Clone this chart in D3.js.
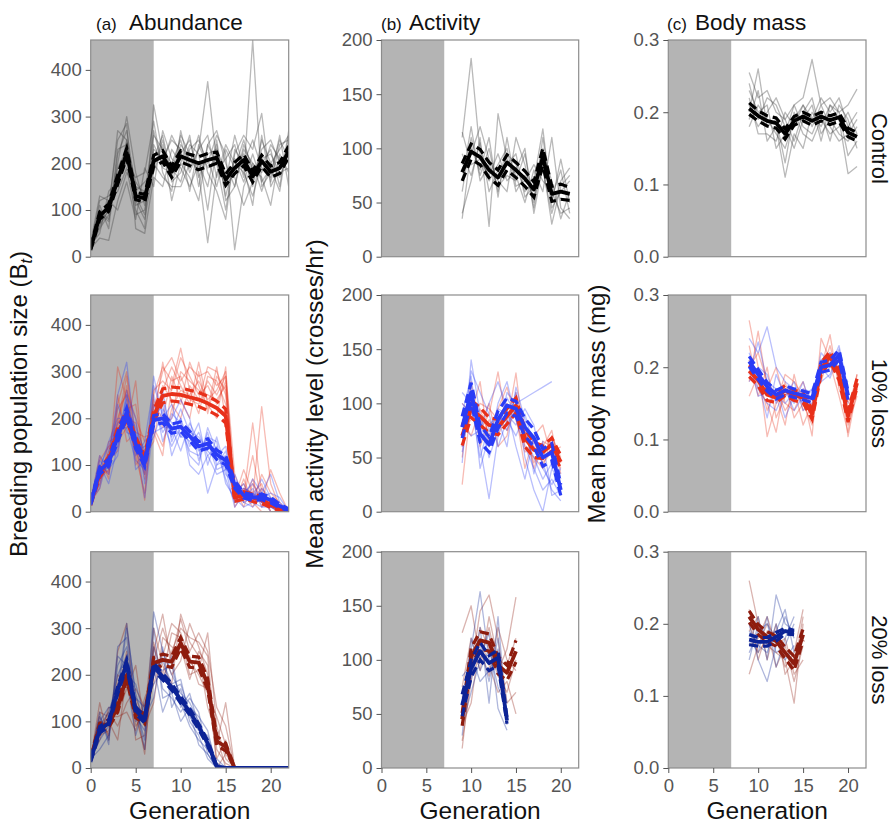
<!DOCTYPE html>
<html><head><meta charset="utf-8">
<script src="https://cdn.jsdelivr.net/npm/d3@7"></script>
<style>
body{margin:0;background:#fff}
text{font-family:"Liberation Sans", Arial, Helvetica, sans-serif}
</style>
</head><body>
<svg id="chart" width="893" height="824"></svg>
<script>
// ---------------- DATA ----------------
const columnTitles = ["Abundance", "Activity", "Body mass"];
const columnLetters = ["(a)", "(b)", "(c)"];
const rowLabels = ["Control", "10% loss", "20% loss"];
const xTicks = [0, 5, 10, 15, 20];
const yTicksAbund = [0, 100, 200, 300, 400];
const yTicksAct = [0, 50, 100, 150, 200];
const yTicksMass = [0, 0.1, 0.2, 0.3];

const genAll = [0,1,2,3,4,5,6,7,8,9,10,11,12,13,14,15,16,17,18,19,20,21,22];
const gen9to21 = [9,10,11,12,13,14,15,16,17,18,19,20,21];
const gen9to20 = [9,10,11,12,13,14,15,16,17,18,19,20];
const gen9to15 = [9,10,11,12,13,14,15];
const gen9to14 = [9,10,11,12,13,14];

// Row 1 : Control
const ctrlAbundMean = [18, 88, 105, 165, 222, 130, 125, 205, 215, 182, 215, 207, 200, 207, 212, 165, 190, 207, 172, 205, 182, 190, 225];
const ctrlAbundSE   = [4, 8, 8, 10, 10, 8, 8, 12, 12, 12, 12, 12, 14, 14, 12, 12, 12, 12, 12, 12, 12, 12, 12];
const ctrlAbundReps = [
 [20, 60, 90, 200, 300, 180, 110, 260, 230, 200, 250, 180, 230, 375, 200, 150, 180, 220, 150, 250, 200, 230, 260],
 [25, 120, 130, 150, 250, 100, 60, 325, 220, 190, 160, 230, 250, 200, 260, 220, 15, 150, 200, 180, 240, 210, 200],
 [18, 40, 35, 120, 180, 150, 140, 210, 260, 170, 240, 210, 180, 30, 180, 210, 240, 170, 464, 150, 180, 250, 210],
 [22, 90, 110, 250, 285, 60, 50, 170, 150, 230, 200, 260, 150, 240, 200, 100, 220, 260, 230, 307, 150, 190, 240],
 [20, 100, 80, 180, 200, 170, 180, 290, 180, 140, 270, 190, 230, 260, 170, 240, 200, 180, 130, 200, 230, 150, 270],
 [30, 130, 120, 100, 160, 80, 190, 150, 270, 210, 190, 150, 200, 150, 250, 120, 150, 240, 190, 170, 110, 220, 180],
 [20, 70, 100, 270, 250, 130, 90, 240, 200, 260, 220, 250, 170, 220, 230, 180, 170, 110, 160, 230, 250, 200, 230],
 [25, 50, 140, 160, 220, 110, 120, 200, 170, 150, 150, 200, 260, 180, 140, 80, 230, 200, 250, 190, 170, 260, 150],
 [20, 110, 60, 220, 270, 140, 160, 180, 240, 120, 200, 170, 120, 240, 270, 200, 150, 230, 200, 140, 200, 170, 220],
 [28, 80, 120, 140, 190, 90, 100, 230, 210, 250, 230, 140, 240, 190, 210, 160, 260, 190, 110, 260, 160, 240, 250],
 [18, 95, 75, 230, 240, 160, 130, 270, 190, 180, 260, 220, 190, 210, 150, 230, 190, 250, 180, 210, 220, 180, 190],
 [24, 65, 100, 190, 230, 120, 80, 190, 250, 160, 180, 240, 220, 100, 240, 130, 210, 160, 220, 160, 190, 140, 260]
];
const ctrlActMean = [78, 97, 92, 80, 73, 87, 80, 72, 62, 92, 58, 60, 58];
const ctrlActSE   = [8, 7, 7, 7, 7, 7, 7, 7, 7, 8, 7, 7, 6];
const ctrlActReps = [
 [110, 183, 95, 70, 85, 100, 60, 75, 55, 80, 40, 70, 82],
 [40, 70, 110, 28, 132, 90, 75, 50, 80, 60, 110, 45, 35],
 [85, 95, 120, 90, 70, 60, 110, 85, 45, 95, 70, 35, 60],
 [60, 110, 75, 100, 60, 95, 85, 60, 70, 118, 50, 90, 50],
 [115, 85, 90, 75, 95, 70, 80, 100, 40, 85, 30, 65, 75],
 [35, 100, 80, 110, 55, 110, 65, 70, 85, 70, 60, 40, 45],
 [95, 75, 105, 60, 80, 85, 95, 55, 65, 100, 45, 60, 70],
 [70, 120, 70, 85, 65, 75, 70, 95, 50, 110, 55, 80, 40]
];
const ctrlMassMean = [0.205, 0.195, 0.188, 0.185, 0.170, 0.188, 0.194, 0.188, 0.194, 0.189, 0.193, 0.172, 0.166];
const ctrlMassSE   = [0.008, 0.007, 0.007, 0.007, 0.007, 0.006, 0.006, 0.006, 0.006, 0.006, 0.006, 0.006, 0.006];
const ctrlMassReps = [
 [0.255, 0.22, 0.23, 0.20, 0.19, 0.21, 0.22, 0.273, 0.21, 0.22, 0.2, 0.21, 0.232],
 [0.19, 0.23, 0.16, 0.18, 0.11, 0.17, 0.15, 0.2, 0.18, 0.21, 0.19, 0.115, 0.125],
 [0.23, 0.20, 0.21, 0.15, 0.17, 0.21, 0.18, 0.17, 0.2, 0.16, 0.21, 0.19, 0.15],
 [0.21, 0.18, 0.2, 0.22, 0.19, 0.16, 0.2, 0.22, 0.17, 0.19, 0.17, 0.16, 0.18],
 [0.18, 0.21, 0.19, 0.17, 0.15, 0.19, 0.21, 0.19, 0.22, 0.2, 0.22, 0.18, 0.2],
 [0.2, 0.26, 0.18, 0.19, 0.13, 0.2, 0.17, 0.16, 0.19, 0.17, 0.18, 0.2, 0.17],
 [0.24, 0.19, 0.22, 0.21, 0.18, 0.15, 0.19, 0.21, 0.16, 0.21, 0.2, 0.14, 0.16],
 [0.22, 0.17, 0.17, 0.16, 0.2, 0.18, 0.21, 0.18, 0.21, 0.18, 0.16, 0.17, 0.19]
];

// Row 2 : 10% loss (red and blue)
const loss10RedAbundMean  = [18, 82, 110, 170, 205, 150, 112, 205, 248, 252, 250, 245, 240, 232, 222, 205, 30, 35, 30, 25, 15, 6, 2];
const loss10RedAbundSE    = [4, 8, 8, 10, 10, 10, 8, 12, 15, 15, 15, 15, 15, 15, 15, 15, 8, 8, 8, 8, 6, 4, 2];
const loss10BlueAbundMean = [18, 88, 105, 160, 212, 145, 105, 196, 200, 178, 182, 162, 140, 146, 122, 110, 58, 35, 30, 32, 25, 12, 4];
const loss10BlueAbundSE   = [4, 8, 8, 10, 10, 10, 8, 10, 10, 10, 10, 10, 10, 10, 10, 10, 8, 6, 6, 6, 6, 4, 2];
const loss10RedAbundReps = [
 [20, 60, 130, 230, 300, 160, 90, 220, 300, 330, 280, 310, 290, 300, 270, 290, 40, 60, 20, 0, 0, 0, 0],
 [25, 100, 80, 200, 260, 200, 150, 180, 140, 220, 260, 250, 280, 240, 260, 300, 80, 30, 190, 40, 10, 0, 0],
 [18, 110, 140, 150, 180, 280, 70, 260, 280, 260, 330, 290, 250, 270, 230, 280, 20, 50, 30, 225, 60, 10, 0],
 [22, 70, 90, 310, 240, 120, 40, 230, 200, 290, 240, 200, 300, 210, 290, 260, 30, 90, 40, 20, 90, 40, 0],
 [20, 90, 120, 180, 270, 100, 130, 190, 320, 230, 200, 270, 240, 310, 300, 250, 60, 20, 70, 10, 30, 0, 0],
 [28, 75, 110, 130, 220, 230, 100, 210, 260, 310, 270, 230, 320, 230, 200, 310, 10, 40, 10, 50, 20, 10, 0],
 [19, 120, 70, 250, 150, 170, 160, 170, 120, 270, 350, 260, 210, 290, 280, 230, 50, 10, 60, 30, 0, 0, 0],
 [24, 85, 100, 190, 290, 140, 25, 240, 180, 200, 300, 280, 260, 250, 240, 270, 20, 70, 20, 80, 40, 20, 0],
 [20, 50, 150, 160, 200, 190, 120, 150, 270, 240, 230, 320, 270, 220, 310, 200, 40, 30, 120, 20, 10, 0, 0],
 [26, 95, 85, 220, 250, 130, 80, 250, 310, 280, 290, 240, 230, 280, 250, 290, 30, 50, 40, 60, 0, 0, 0]
];
const loss10BlueAbundReps = [
 [20, 80, 110, 250, 320, 150, 80, 290, 200, 230, 160, 180, 130, 150, 90, 100, 30, 40, 60, 20, 10, 0, 0],
 [25, 100, 60, 140, 230, 170, 120, 180, 260, 150, 200, 140, 170, 120, 140, 80, 60, 20, 30, 70, 30, 10, 0],
 [18, 60, 130, 180, 180, 110, 90, 230, 170, 200, 240, 200, 110, 170, 100, 130, 40, 60, 20, 40, 80, 20, 0],
 [22, 120, 90, 120, 250, 200, 60, 200, 230, 120, 170, 150, 190, 100, 160, 90, 80, 30, 50, 10, 20, 0, 0],
 [20, 90, 150, 200, 200, 130, 140, 170, 180, 180, 130, 190, 150, 140, 120, 140, 50, 20, 10, 30, 40, 30, 0],
 [28, 70, 100, 160, 240, 90, 110, 250, 150, 210, 190, 120, 100, 180, 130, 70, 20, 50, 40, 20, 10, 0, 0],
 [19, 110, 80, 230, 170, 160, 30, 190, 240, 170, 220, 170, 160, 130, 110, 120, 70, 40, 30, 50, 30, 10, 0],
 [24, 50, 120, 140, 260, 140, 100, 210, 190, 140, 180, 130, 120, 160, 150, 60, 30, 10, 20, 30, 0, 0, 0],
 [20, 85, 95, 170, 220, 180, 130, 160, 220, 190, 160, 160, 140, 40, 100, 110, 40, 30, 70, 40, 20, 0, 0],
 [26, 95, 140, 190, 210, 120, 150, 270, 210, 160, 200, 100, 80, 120, 80, 90, 10, 40, 20, 10, 10, 10, 0]
];
const loss10RedActMean  = [70, 95, 88, 80, 78, 88, 98, 68, 57, 55, 62, 46];
const loss10RedActSE    = [9, 8, 8, 7, 7, 7, 7, 8, 7, 6, 6, 6];
const loss10BlueActMean = [78, 110, 72, 62, 85, 98, 95, 78, 68, 50, 55, 20];
const loss10BlueActSE   = [10, 9, 8, 7, 8, 7, 7, 8, 8, 8, 8, 5];
const loss10RedActReps = [
 [25, 100, 75, 90, 129, 80, 128, 60, 50, 40, 70, 45],
 [100, 90, 120, 60, 80, 100, 90, 40, 70, 80, 50, 55],
 [60, 110, 80, 100, 60, 70, 110, 75, 45, 60, 75, 35],
 [85, 70, 95, 70, 95, 115, 85, 55, 65, 45, 55, 60],
 [50, 120, 60, 85, 70, 90, 100, 80, 40, 65, 60, 40],
 [75, 85, 100, 95, 85, 75, 95, 65, 60, 50, 70, 50]
];
const loss10BlueActReps = [
 [45, 140, 90, 60, 100, 120, 85, 60, 40, 20, 30, 15],
 [90, 125, 60, 12, 70, 110, 100, 105, 110, 115, 120, null],
 [110, 100, 50, 80, 90, 75, 110, 50, 20, 0, 40, 25],
 [60, 130, 110, 90, 60, 85, 70, 90, 60, 45, 20, 10],
 [80, 70, 75, 100, 120, 95, 60, 30, 70, 55, 60, 30],
 [70, 115, 40, 70, 85, 60, 115, 85, 35, 65, 15, 20],
 [100, 90, 85, 50, 75, 105, 90, 70, 50, 30, 45, 35],
 [55, 105, 65, 75, 95, 90, 80, 95, 80, 40, 25, 40]
];
const loss10RedMassMean  = [0.195, 0.182, 0.162, 0.158, 0.168, 0.161, 0.158, 0.135, 0.198, 0.215, 0.19, 0.132, 0.178];
const loss10RedMassSE    = [0.008, 0.008, 0.008, 0.007, 0.007, 0.007, 0.007, 0.007, 0.008, 0.007, 0.008, 0.008, 0.006];
const loss10BlueMassMean = [0.208, 0.19, 0.173, 0.162, 0.168, 0.164, 0.161, 0.157, 0.2, 0.203, 0.217, 0.161];
const loss10BlueMassSE   = [0.007, 0.007, 0.006, 0.006, 0.006, 0.006, 0.006, 0.006, 0.007, 0.007, 0.007, 0.006];
const loss10RedMassReps = [
 [0.265, 0.2, 0.104, 0.15, 0.19, 0.18, 0.16, 0.105, 0.24, 0.21, 0.2, 0.104, 0.17],
 [0.18, 0.25, 0.17, 0.2, 0.15, 0.14, 0.17, 0.13, 0.2, 0.245, 0.17, 0.14, 0.19],
 [0.21, 0.16, 0.2, 0.13, 0.16, 0.17, 0.12, 0.15, 0.18, 0.22, 0.19, 0.12, 0.16],
 [0.16, 0.19, 0.14, 0.17, 0.14, 0.16, 0.18, 0.14, 0.21, 0.2, 0.21, 0.15, 0.18],
 [0.23, 0.17, 0.15, 0.11, 0.18, 0.13, 0.15, 0.12, 0.19, 0.23, 0.18, 0.13, 0.17],
 [0.2, 0.22, 0.18, 0.16, 0.12, 0.19, 0.14, 0.16, 0.2, 0.205, 0.16, 0.11, 0.19]
];
const loss10BlueMassReps = [
 [0.24, 0.22, 0.256, 0.2, 0.18, 0.17, 0.15, 0.16, 0.19, 0.2, 0.23, 0.17],
 [0.2, 0.17, 0.15, 0.14, 0.17, 0.15, 0.18, 0.14, 0.21, 0.22, 0.2, 0.15],
 [0.19, 0.235, 0.18, 0.17, 0.13, 0.16, 0.17, 0.165, 0.18, 0.19, 0.225, 0.16],
 [0.22, 0.18, 0.13, 0.19, 0.16, 0.18, 0.14, 0.15, 0.22, 0.205, 0.19, 0.18],
 [0.18, 0.2, 0.19, 0.15, 0.17, 0.14, 0.16, 0.17, 0.195, 0.21, 0.21, 0.155],
 [0.21, 0.16, 0.165, 0.16, 0.15, 0.165, 0.15, 0.155, 0.2, 0.185, 0.22, 0.165]
];

// Row 3 : 20% loss (dark red and dark blue)
const loss20RedAbundMean  = [20, 88, 95, 130, 198, 118, 105, 225, 232, 228, 268, 228, 226, 180, 58, 45, 0, 0, 0, 0, 0, 0, 0];
const loss20RedAbundSE    = [4, 8, 8, 10, 10, 10, 10, 12, 12, 12, 12, 12, 12, 12, 10, 8, 0, 0, 0, 0, 0, 0, 0];
const loss20BlueAbundMean = [17, 82, 96, 167, 224, 124, 103, 217, 196, 174, 146, 121, 89, 53, 3, 0, 0, 0, 0, 0, 0, 0, 0];
const loss20BlueAbundSE   = [4, 7, 7, 8, 8, 8, 7, 8, 7, 7, 7, 7, 6, 6, 2, 0, 0, 0, 0, 0, 0, 0, 0];
const loss20RedAbundReps = [
 [20, 140, 60, 250, 310, 110, 40, 230, 300, 240, 320, 250, 290, 250, 130, 90, 0, 0, 0, 0, 0, 0, 0],
 [25, 80, 120, 90, 140, 170, 130, 180, 250, 200, 230, 310, 260, 200, 50, 140, 0, 0, 0, 0, 0, 0, 0],
 [18, 100, 90, 150, 250, 60, 70, 260, 200, 290, 280, 200, 210, 290, 90, 20, 0, 0, 0, 0, 0, 0, 0],
 [22, 60, 130, 120, 170, 220, 90, 140, 280, 260, 250, 240, 180, 170, 20, 60, 0, 0, 0, 0, 0, 0, 0],
 [20, 110, 70, 180, 230, 90, 120, 300, 220, 180, 330, 270, 240, 130, 70, 0, 0, 0, 0, 0, 0, 0, 0],
 [28, 90, 100, 60, 200, 130, 30, 250, 330, 220, 260, 190, 250, 220, 0, 30, 0, 0, 0, 0, 0, 0, 0],
 [19, 120, 110, 110, 120, 80, 150, 200, 240, 310, 290, 230, 200, 160, 110, 50, 0, 0, 0, 0, 0, 0, 0],
 [24, 70, 80, 200, 180, 150, 100, 270, 190, 250, 300, 280, 270, 240, 40, 10, 0, 0, 0, 0, 0, 0, 0]
];
const loss20BlueAbundReps = [
 [20, 120, 50, 260, 280, 130, 60, 335, 250, 200, 160, 140, 100, 50, 0, 0, 0, 0, 0, 0, 0, 0, 0],
 [25, 80, 110, 200, 240, 100, 120, 200, 230, 180, 190, 110, 80, 70, 10, 0, 0, 0, 0, 0, 0, 0, 0],
 [18, 60, 90, 150, 300, 160, 90, 260, 170, 150, 120, 150, 120, 30, 0, 0, 0, 0, 0, 0, 0, 0, 0],
 [22, 100, 130, 130, 190, 70, 140, 180, 210, 220, 140, 90, 60, 40, 20, 0, 0, 0, 0, 0, 0, 0, 0],
 [20, 40, 70, 220, 260, 140, 40, 300, 150, 160, 100, 130, 110, 80, 0, 0, 0, 0, 0, 0, 0, 0, 0],
 [28, 90, 120, 180, 200, 180, 110, 150, 260, 130, 170, 100, 70, 20, 0, 0, 0, 0, 0, 0, 0, 0, 0],
 [19, 110, 60, 240, 220, 110, 80, 240, 190, 240, 130, 160, 90, 60, 10, 0, 0, 0, 0, 0, 0, 0, 0],
 [24, 70, 100, 170, 310, 150, 130, 220, 120, 170, 180, 120, 50, 30, 0, 0, 0, 0, 0, 0, 0, 0, 0]
];
const loss20RedActMean  = [45, 103, 118, 116, 95, 88, 108];
const loss20RedActSE    = [6, 8, 8, 8, 8, 7, 10];
const loss20BlueActMean = [58, 92, 108, 97, 102, 44];
const loss20BlueActSE   = [10, 8, 8, 7, 7, 3];
const loss20RedActReps = [
 [18, 90, 145, 160, 120, 60, 70],
 [125, 150, 100, 130, 90, 110, 158],
 [40, 60, 120, 95, 70, 80, 50],
 [75, 120, 90, 140, 100, 95, 120],
 [25, 80, 130, 110, 85, 70, 100],
 [60, 100, 110, 85, 130, 100, 90]
];
const loss20BlueActReps = [
 [30, 110, 163, 100, 90, 50],
 [70, 80, 130, 60, 140, 40],
 [50, 120, 90, 110, 75, 55],
 [85, 95, 115, 80, 120, 45],
 [40, 70, 100, 125, 55, 35],
 [65, 105, 80, 90, 110, 60]
];
const loss20RedMassMean  = [0.21, 0.192, 0.182, 0.176, 0.16, 0.145, 0.185];
const loss20RedMassSE    = [0.008, 0.007, 0.007, 0.007, 0.008, 0.01, 0.008];
const loss20BlueMassMean = [0.178, 0.175, 0.175, 0.182, 0.19, 0.188];
const loss20BlueMassSE   = [0.007, 0.006, 0.006, 0.006, 0.004, 0.003];
const loss20RedMassReps = [
 [0.26, 0.2, 0.17, 0.16, 0.15, 0.09, 0.2],
 [0.13, 0.17, 0.2, 0.18, 0.14, 0.16, 0.22],
 [0.22, 0.15, 0.19, 0.14, 0.17, 0.12, 0.17],
 [0.19, 0.21, 0.15, 0.2, 0.13, 0.15, 0.19],
 [0.17, 0.18, 0.21, 0.17, 0.18, 0.13, 0.15],
 [0.2, 0.16, 0.18, 0.19, 0.16, 0.14, 0.21]
];
const loss20BlueMassReps = [
 [0.17, 0.21, 0.15, 0.24, 0.2, 0.19],
 [0.2, 0.15, 0.12, 0.17, 0.21, 0.18],
 [0.16, 0.19, 0.2, 0.16, 0.17, 0.2],
 [0.19, 0.17, 0.16, 0.2, 0.15, 0.17],
 [0.15, 0.2, 0.18, 0.19, 0.22, 0.16],
 [0.18, 0.16, 0.21, 0.14, 0.18, 0.21]
];

// ---------------- STYLE / LAYOUT ----------------
const C = {
  ctrl: "#000000", ctrlRep: "#3c3c3c",
  red10: "#e8301a", blue10: "#2a3cf6",
  red20: "#8e1c0e", blue20: "#0c2396"
};
const colsX = [[90.7, 288.7], [381.5, 578.7], [668.3, 866]];
const rowsY = [[40, 256.7], [295, 511.7], [551.7, 768]];
const yDomains = [[0, 464], [0, 200], [0, 0.3]];
const yTickSets = [yTicksAbund, yTicksAct, yTicksMass];
const yFormats = [d3.format("d"), d3.format("d"), d3.format(".1f")];

function grp(gens, reps, mean, se, color, repColor) {
  return {gens, reps, mean, se, color, repColor: repColor || color};
}

const panels = [
  [[grp(genAll, ctrlAbundReps, ctrlAbundMean, ctrlAbundSE, C.ctrl, C.ctrlRep)],
   [grp(gen9to21, ctrlActReps, ctrlActMean, ctrlActSE, C.ctrl, C.ctrlRep)],
   [grp(gen9to21, ctrlMassReps, ctrlMassMean, ctrlMassSE, C.ctrl, C.ctrlRep)]],
  [[grp(genAll, loss10RedAbundReps, loss10RedAbundMean, loss10RedAbundSE, C.red10),
    grp(genAll, loss10BlueAbundReps, loss10BlueAbundMean, loss10BlueAbundSE, C.blue10)],
   [grp(gen9to20, loss10RedActReps, loss10RedActMean, loss10RedActSE, C.red10),
    grp(gen9to20, loss10BlueActReps, loss10BlueActMean, loss10BlueActSE, C.blue10)],
   [grp(gen9to21, loss10RedMassReps, loss10RedMassMean, loss10RedMassSE, C.red10),
    grp(gen9to20, loss10BlueMassReps, loss10BlueMassMean, loss10BlueMassSE, C.blue10)]],
  [[grp(genAll, loss20RedAbundReps, loss20RedAbundMean, loss20RedAbundSE, C.red20),
    grp(genAll, loss20BlueAbundReps, loss20BlueAbundMean, loss20BlueAbundSE, C.blue20)],
   [grp(gen9to15, loss20RedActReps, loss20RedActMean, loss20RedActSE, C.red20),
    grp(gen9to14, loss20BlueActReps, loss20BlueActMean, loss20BlueActSE, C.blue20)],
   [grp(gen9to15, loss20RedMassReps, loss20RedMassMean, loss20RedMassSE, C.red20),
    grp(gen9to14, loss20BlueMassReps, loss20BlueMassMean, loss20BlueMassSE, C.blue20)]]
];

// ---------------- DRAW ----------------
const svg = d3.select("#chart");
const defs = svg.append("defs");
const FONT = '"Liberation Sans", Arial, sans-serif';

panels.forEach((row, ri) => {
  row.forEach((groups, ci) => {
    const [L, R] = colsX[ci];
    const [T, B] = rowsY[ri];
    const x = d3.scaleLinear().domain([0, 22]).range([L, R]);
    const y = d3.scaleLinear().domain(yDomains[ci]).range([B, T]);
    const id = `clip-${ri}-${ci}`;
    defs.append("clipPath").attr("id", id)
      .append("rect").attr("x", L).attr("y", T).attr("width", R - L).attr("height", B - T);
    const g = svg.append("g");
    const inner = g.append("g").attr("clip-path", `url(#${id})`);

    inner.append("rect")
      .attr("x", x(0)).attr("y", T)
      .attr("width", x(7) - x(0)).attr("height", B - T)
      .attr("fill", "#b4b4b4");

    groups.forEach(gr => {
      gr.reps.forEach(rep => {
        const pts = gr.gens.map((gen, i) => [gen, rep[i]]);
        const line = d3.line().defined(d => d[1] != null)
          .x(d => x(d[0])).y(d => y(d[1]));
        inner.append("path").attr("d", line(pts))
          .attr("fill", "none").attr("stroke", gr.repColor)
          .attr("stroke-opacity", ri === 0 ? 0.36 : 0.33)
          .attr("stroke-width", 1.3).attr("stroke-linejoin", "round");
      });
    });

    groups.forEach(gr => {
      const line = d3.line().x(d => x(d[0])).y(d => y(d[1]));
      const hi = gr.gens.map((gen, i) => [gen, gr.mean[i] + gr.se[i]]);
      const lo = gr.gens.map((gen, i) => [gen, gr.mean[i] - gr.se[i]]);
      [hi, lo].forEach(pts => {
        inner.append("path").attr("d", line(pts))
          .attr("fill", "none").attr("stroke", gr.color)
          .attr("stroke-width", 3.2).attr("stroke-dasharray", "9,5");
      });
      inner.append("path").attr("d", line(gr.gens.map((gen, i) => [gen, gr.mean[i]])))
        .attr("fill", "none").attr("stroke", gr.color)
        .attr("stroke-width", 3.8).attr("stroke-linejoin", "round");
    });

    g.append("rect").attr("x", L).attr("y", T)
      .attr("width", R - L).attr("height", B - T)
      .attr("fill", "none").attr("stroke", "#8c8c8c").attr("stroke-width", 1.2);

    const ya = g.append("g").attr("transform", `translate(${L},0)`)
      .call(d3.axisLeft(y).tickValues(yTickSets[ci]).tickFormat(yFormats[ci])
        .tickSize(5).tickPadding(4));
    ya.select(".domain").remove();
    ya.selectAll(".tick line").attr("stroke", "#555");
    ya.selectAll(".tick text").attr("fill", "#555").style("font-size", "18.5px")
      .style("font-family", FONT);

    if (ri === 2) {
      const xa = g.append("g").attr("transform", `translate(0,${B})`)
        .call(d3.axisBottom(x).tickValues(xTicks).tickSize(5).tickPadding(6));
      xa.select(".domain").remove();
      xa.selectAll(".tick line").attr("stroke", "#555");
      xa.selectAll(".tick text").attr("fill", "#555").style("font-size", "18.5px")
        .style("font-family", FONT);
      svg.append("text").attr("x", (L + R) / 2).attr("y", 818.5)
        .attr("text-anchor", "middle").style("font-size", "24.5px").attr("fill", "#111")
        .text("Generation");
    }
  });
});

// column titles
const letterX = [96, 381, 667];
const titleX = [129, 409, 695];
columnTitles.forEach((t, i) => {
  svg.append("text").attr("x", letterX[i]).attr("y", 29.5)
    .style("font-size", "17px").attr("fill", "#111").text(columnLetters[i]);
  svg.append("text").attr("x", titleX[i]).attr("y", 29.5)
    .style("font-size", "22.5px").attr("fill", "#111").text(t);
});

// row strip labels
rowLabels.forEach((t, i) => {
  const cy = (rowsY[i][0] + rowsY[i][1]) / 2;
  svg.append("text").attr("transform", `translate(872,${cy}) rotate(90)`)
    .attr("text-anchor", "middle").style("font-size", "22px").attr("fill", "#111").text(t);
});

// y axis titles
const midY = (rowsY[0][0] + rowsY[2][1]) / 2;
const yt1 = svg.append("text").attr("transform", `translate(27,${midY}) rotate(-90)`)
  .attr("text-anchor", "middle").style("font-size", "24px").attr("fill", "#111");
yt1.append("tspan").text("Breeding population size (B");
yt1.append("tspan").attr("dy", 5).style("font-size", "16px").style("font-style", "italic").text("t");
yt1.append("tspan").attr("dy", -5).text(")");
svg.append("text").attr("transform", `translate(323,${midY}) rotate(-90)`)
  .attr("text-anchor", "middle").style("font-size", "24px").attr("fill", "#111")
  .text("Mean activity level (crosses/hr)");
svg.append("text").attr("transform", `translate(605,${midY}) rotate(-90)`)
  .attr("text-anchor", "middle").style("font-size", "24px").attr("fill", "#111")
  .text("Mean body mass (mg)");
</script>
</body></html>
